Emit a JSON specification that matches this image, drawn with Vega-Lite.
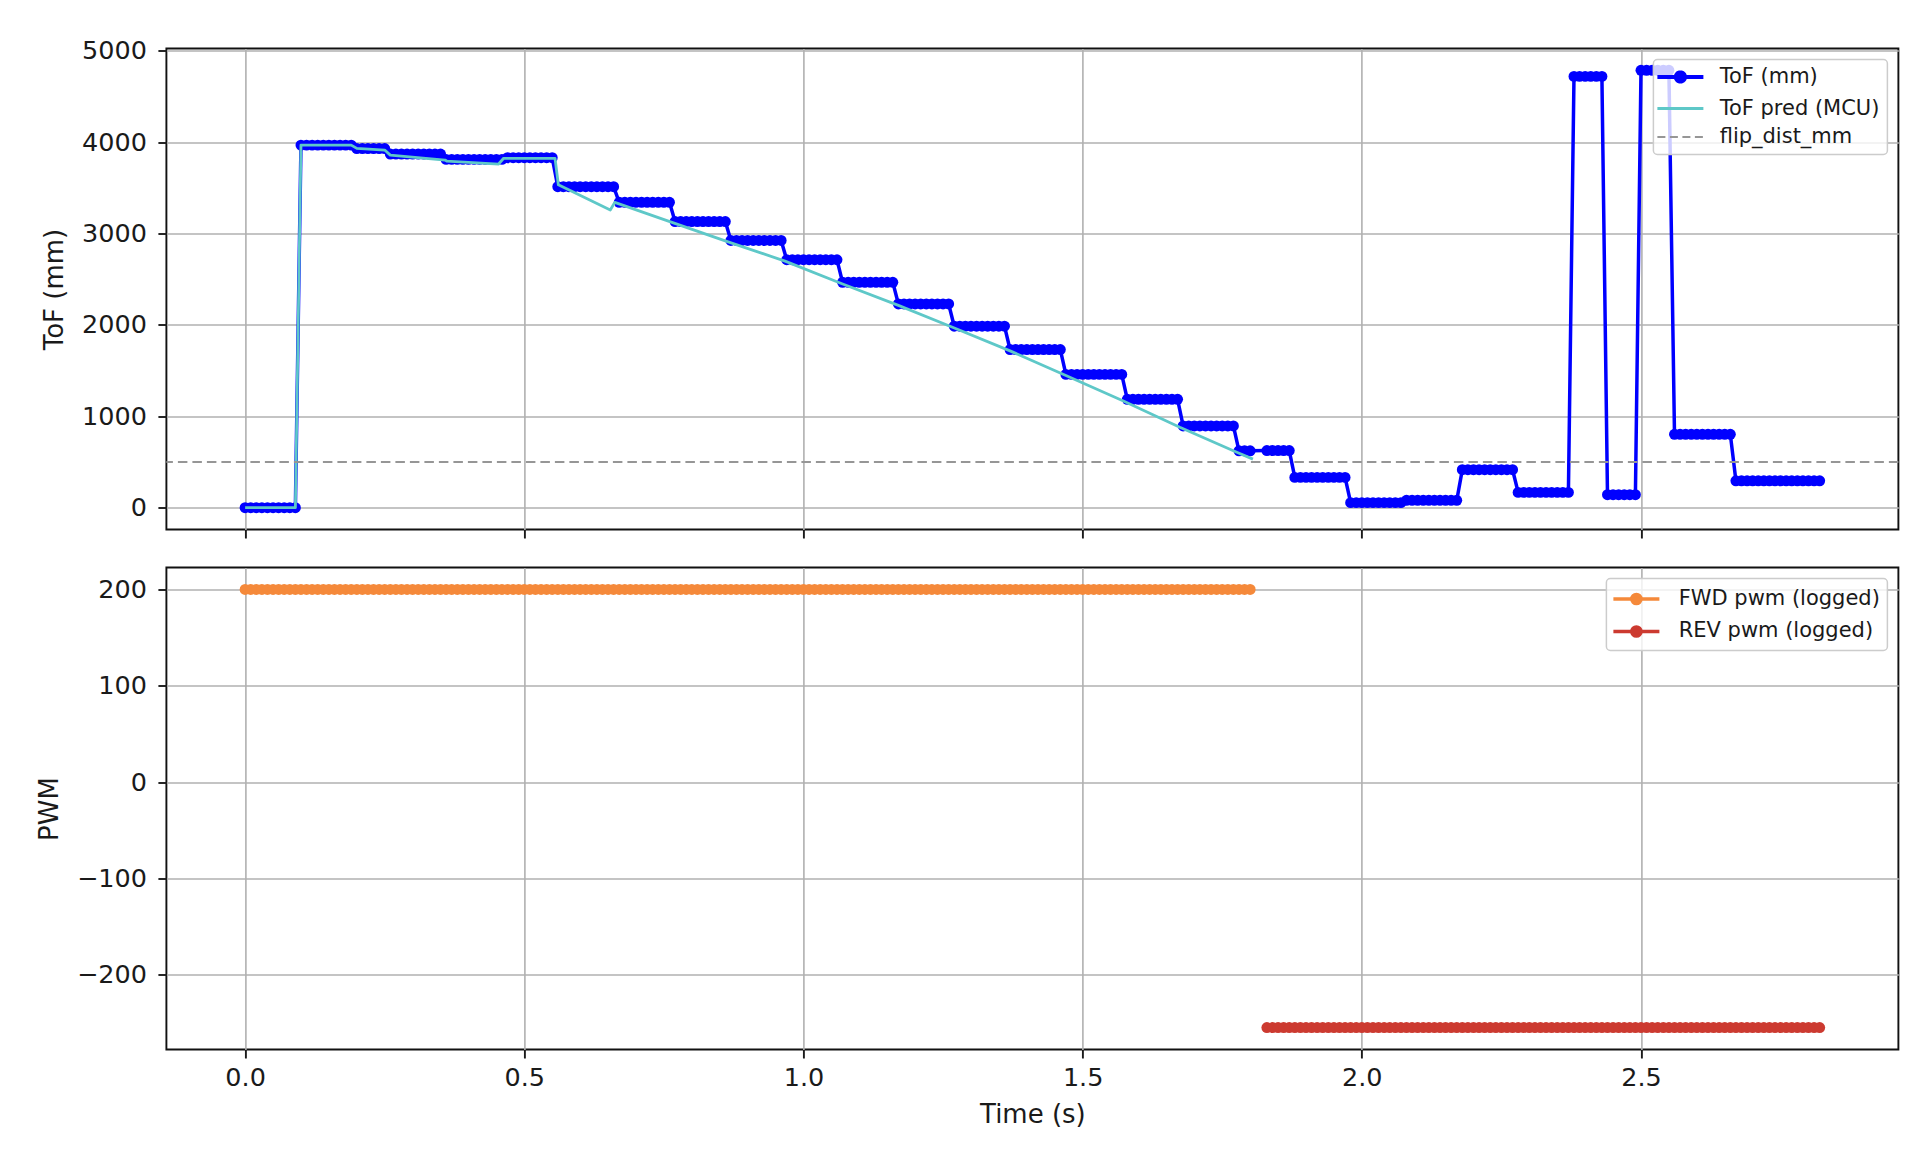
{
  "$schema": "https://vega.github.io/schema/vega-lite/v6.json",
  "background": "white",
  "padding": {"left": 35.4, "top": 37.5, "right": 17, "bottom": 39},
  "spacing": 26,
  "datasets": {
    "log": [
      {"t":0,"tof":0,"fwd":200},{"t":0.01,"tof":0,"fwd":200},{"t":0.02,"tof":0,"fwd":200},{"t":0.03,"tof":0,"fwd":200},{"t":0.04,"tof":0,"fwd":200},{"t":0.05,"tof":0,"fwd":200},{"t":0.06,"tof":0,"fwd":200},{"t":0.07,"tof":0,"fwd":200},{"t":0.08,"tof":0,"fwd":200},{"t":0.09,"tof":0,"fwd":200},
      {"t":0.1,"tof":3966,"fwd":200},{"t":0.11,"tof":3966,"fwd":200},{"t":0.12,"tof":3966,"fwd":200},{"t":0.13,"tof":3966,"fwd":200},{"t":0.14,"tof":3966,"fwd":200},{"t":0.15,"tof":3966,"fwd":200},{"t":0.16,"tof":3966,"fwd":200},{"t":0.17,"tof":3966,"fwd":200},{"t":0.18,"tof":3966,"fwd":200},{"t":0.19,"tof":3966,"fwd":200},
      {"t":0.2,"tof":3929,"fwd":200},{"t":0.21,"tof":3929,"fwd":200},{"t":0.22,"tof":3929,"fwd":200},{"t":0.23,"tof":3929,"fwd":200},{"t":0.24,"tof":3929,"fwd":200},{"t":0.25,"tof":3929,"fwd":200},
      {"t":0.26,"tof":3868,"fwd":200},{"t":0.27,"tof":3868,"fwd":200},{"t":0.28,"tof":3868,"fwd":200},{"t":0.29,"tof":3868,"fwd":200},{"t":0.3,"tof":3868,"fwd":200},{"t":0.31,"tof":3868,"fwd":200},{"t":0.32,"tof":3868,"fwd":200},{"t":0.33,"tof":3868,"fwd":200},{"t":0.34,"tof":3868,"fwd":200},{"t":0.35,"tof":3868,"fwd":200},
      {"t":0.36,"tof":3810,"fwd":200},{"t":0.37,"tof":3810,"fwd":200},{"t":0.38,"tof":3810,"fwd":200},{"t":0.39,"tof":3810,"fwd":200},{"t":0.4,"tof":3810,"fwd":200},{"t":0.41,"tof":3810,"fwd":200},{"t":0.42,"tof":3810,"fwd":200},{"t":0.43,"tof":3810,"fwd":200},{"t":0.44,"tof":3810,"fwd":200},{"t":0.45,"tof":3810,"fwd":200},{"t":0.46,"tof":3810,"fwd":200},
      {"t":0.47,"tof":3828,"fwd":200},{"t":0.48,"tof":3828,"fwd":200},{"t":0.49,"tof":3828,"fwd":200},{"t":0.5,"tof":3828,"fwd":200},{"t":0.51,"tof":3828,"fwd":200},{"t":0.52,"tof":3828,"fwd":200},{"t":0.53,"tof":3828,"fwd":200},{"t":0.54,"tof":3828,"fwd":200},{"t":0.55,"tof":3828,"fwd":200},
      {"t":0.56,"tof":3511,"fwd":200},{"t":0.57,"tof":3511,"fwd":200},{"t":0.58,"tof":3511,"fwd":200},{"t":0.59,"tof":3511,"fwd":200},{"t":0.6,"tof":3511,"fwd":200},{"t":0.61,"tof":3511,"fwd":200},{"t":0.62,"tof":3511,"fwd":200},{"t":0.63,"tof":3511,"fwd":200},{"t":0.64,"tof":3511,"fwd":200},{"t":0.65,"tof":3511,"fwd":200},{"t":0.66,"tof":3511,"fwd":200},
      {"t":0.67,"tof":3340,"fwd":200},{"t":0.68,"tof":3340,"fwd":200},{"t":0.69,"tof":3340,"fwd":200},{"t":0.7,"tof":3340,"fwd":200},{"t":0.71,"tof":3340,"fwd":200},{"t":0.72,"tof":3340,"fwd":200},{"t":0.73,"tof":3340,"fwd":200},{"t":0.74,"tof":3340,"fwd":200},{"t":0.75,"tof":3340,"fwd":200},{"t":0.76,"tof":3340,"fwd":200},
      {"t":0.77,"tof":3130,"fwd":200},{"t":0.78,"tof":3130,"fwd":200},{"t":0.79,"tof":3130,"fwd":200},{"t":0.8,"tof":3130,"fwd":200},{"t":0.81,"tof":3130,"fwd":200},{"t":0.82,"tof":3130,"fwd":200},{"t":0.83,"tof":3130,"fwd":200},{"t":0.84,"tof":3130,"fwd":200},{"t":0.85,"tof":3130,"fwd":200},{"t":0.86,"tof":3130,"fwd":200},
      {"t":0.87,"tof":2923,"fwd":200},{"t":0.88,"tof":2923,"fwd":200},{"t":0.89,"tof":2923,"fwd":200},{"t":0.9,"tof":2923,"fwd":200},{"t":0.91,"tof":2923,"fwd":200},{"t":0.92,"tof":2923,"fwd":200},{"t":0.93,"tof":2923,"fwd":200},{"t":0.94,"tof":2923,"fwd":200},{"t":0.95,"tof":2923,"fwd":200},{"t":0.96,"tof":2923,"fwd":200},
      {"t":0.97,"tof":2712,"fwd":200},{"t":0.98,"tof":2712,"fwd":200},{"t":0.99,"tof":2712,"fwd":200},{"t":1,"tof":2712,"fwd":200},{"t":1.01,"tof":2712,"fwd":200},{"t":1.02,"tof":2712,"fwd":200},{"t":1.03,"tof":2712,"fwd":200},{"t":1.04,"tof":2712,"fwd":200},{"t":1.05,"tof":2712,"fwd":200},{"t":1.06,"tof":2712,"fwd":200},
      {"t":1.07,"tof":2465,"fwd":200},{"t":1.08,"tof":2465,"fwd":200},{"t":1.09,"tof":2465,"fwd":200},{"t":1.1,"tof":2465,"fwd":200},{"t":1.11,"tof":2465,"fwd":200},{"t":1.12,"tof":2465,"fwd":200},{"t":1.13,"tof":2465,"fwd":200},{"t":1.14,"tof":2465,"fwd":200},{"t":1.15,"tof":2465,"fwd":200},{"t":1.16,"tof":2465,"fwd":200},
      {"t":1.17,"tof":2228,"fwd":200},{"t":1.18,"tof":2228,"fwd":200},{"t":1.19,"tof":2228,"fwd":200},{"t":1.2,"tof":2228,"fwd":200},{"t":1.21,"tof":2228,"fwd":200},{"t":1.22,"tof":2228,"fwd":200},{"t":1.23,"tof":2228,"fwd":200},{"t":1.24,"tof":2228,"fwd":200},{"t":1.25,"tof":2228,"fwd":200},{"t":1.26,"tof":2228,"fwd":200},
      {"t":1.27,"tof":1985,"fwd":200},{"t":1.28,"tof":1985,"fwd":200},{"t":1.29,"tof":1985,"fwd":200},{"t":1.3,"tof":1985,"fwd":200},{"t":1.31,"tof":1985,"fwd":200},{"t":1.32,"tof":1985,"fwd":200},{"t":1.33,"tof":1985,"fwd":200},{"t":1.34,"tof":1985,"fwd":200},{"t":1.35,"tof":1985,"fwd":200},{"t":1.36,"tof":1985,"fwd":200},
      {"t":1.37,"tof":1730,"fwd":200},{"t":1.38,"tof":1730,"fwd":200},{"t":1.39,"tof":1730,"fwd":200},{"t":1.4,"tof":1730,"fwd":200},{"t":1.41,"tof":1730,"fwd":200},{"t":1.42,"tof":1730,"fwd":200},{"t":1.43,"tof":1730,"fwd":200},{"t":1.44,"tof":1730,"fwd":200},{"t":1.45,"tof":1730,"fwd":200},{"t":1.46,"tof":1730,"fwd":200},
      {"t":1.47,"tof":1458,"fwd":200},{"t":1.48,"tof":1458,"fwd":200},{"t":1.49,"tof":1458,"fwd":200},{"t":1.5,"tof":1458,"fwd":200},{"t":1.51,"tof":1458,"fwd":200},{"t":1.52,"tof":1458,"fwd":200},{"t":1.53,"tof":1458,"fwd":200},{"t":1.54,"tof":1458,"fwd":200},{"t":1.55,"tof":1458,"fwd":200},{"t":1.56,"tof":1458,"fwd":200},{"t":1.57,"tof":1458,"fwd":200},
      {"t":1.58,"tof":1185,"fwd":200},{"t":1.59,"tof":1185,"fwd":200},{"t":1.6,"tof":1185,"fwd":200},{"t":1.61,"tof":1185,"fwd":200},{"t":1.62,"tof":1185,"fwd":200},{"t":1.63,"tof":1185,"fwd":200},{"t":1.64,"tof":1185,"fwd":200},{"t":1.65,"tof":1185,"fwd":200},{"t":1.66,"tof":1185,"fwd":200},{"t":1.67,"tof":1185,"fwd":200},
      {"t":1.68,"tof":894,"fwd":200},{"t":1.69,"tof":894,"fwd":200},{"t":1.7,"tof":894,"fwd":200},{"t":1.71,"tof":894,"fwd":200},{"t":1.72,"tof":894,"fwd":200},{"t":1.73,"tof":894,"fwd":200},{"t":1.74,"tof":894,"fwd":200},{"t":1.75,"tof":894,"fwd":200},{"t":1.76,"tof":894,"fwd":200},{"t":1.77,"tof":894,"fwd":200},
      {"t":1.78,"tof":622,"fwd":200},{"t":1.79,"tof":622,"fwd":200},{"t":1.8,"tof":622,"fwd":200},
      {"t":1.83,"tof":625,"rev":-255},{"t":1.84,"tof":625,"rev":-255},{"t":1.85,"tof":625,"rev":-255},{"t":1.86,"tof":625,"rev":-255},{"t":1.87,"tof":625,"rev":-255},
      {"t":1.88,"tof":331,"rev":-255},{"t":1.89,"tof":331,"rev":-255},{"t":1.9,"tof":331,"rev":-255},{"t":1.91,"tof":331,"rev":-255},{"t":1.92,"tof":331,"rev":-255},{"t":1.93,"tof":331,"rev":-255},{"t":1.94,"tof":331,"rev":-255},{"t":1.95,"tof":331,"rev":-255},{"t":1.96,"tof":331,"rev":-255},{"t":1.97,"tof":331,"rev":-255},
      {"t":1.98,"tof":55,"rev":-255},{"t":1.99,"tof":55,"rev":-255},{"t":2,"tof":55,"rev":-255},{"t":2.01,"tof":55,"rev":-255},{"t":2.02,"tof":55,"rev":-255},{"t":2.03,"tof":55,"rev":-255},{"t":2.04,"tof":55,"rev":-255},{"t":2.05,"tof":55,"rev":-255},{"t":2.06,"tof":55,"rev":-255},{"t":2.07,"tof":55,"rev":-255},
      {"t":2.08,"tof":80,"rev":-255},{"t":2.09,"tof":80,"rev":-255},{"t":2.1,"tof":80,"rev":-255},{"t":2.11,"tof":80,"rev":-255},{"t":2.12,"tof":80,"rev":-255},{"t":2.13,"tof":80,"rev":-255},{"t":2.14,"tof":80,"rev":-255},{"t":2.15,"tof":80,"rev":-255},{"t":2.16,"tof":80,"rev":-255},{"t":2.17,"tof":80,"rev":-255},
      {"t":2.18,"tof":415,"rev":-255},{"t":2.19,"tof":415,"rev":-255},{"t":2.2,"tof":415,"rev":-255},{"t":2.21,"tof":415,"rev":-255},{"t":2.22,"tof":415,"rev":-255},{"t":2.23,"tof":415,"rev":-255},{"t":2.24,"tof":415,"rev":-255},{"t":2.25,"tof":415,"rev":-255},{"t":2.26,"tof":415,"rev":-255},{"t":2.27,"tof":415,"rev":-255},
      {"t":2.28,"tof":167,"rev":-255},{"t":2.29,"tof":167,"rev":-255},{"t":2.3,"tof":167,"rev":-255},{"t":2.31,"tof":167,"rev":-255},{"t":2.32,"tof":167,"rev":-255},{"t":2.33,"tof":167,"rev":-255},{"t":2.34,"tof":167,"rev":-255},{"t":2.35,"tof":167,"rev":-255},{"t":2.36,"tof":167,"rev":-255},{"t":2.37,"tof":167,"rev":-255},
      {"t":2.38,"tof":4718,"rev":-255},{"t":2.39,"tof":4718,"rev":-255},{"t":2.4,"tof":4718,"rev":-255},{"t":2.41,"tof":4718,"rev":-255},{"t":2.42,"tof":4718,"rev":-255},{"t":2.43,"tof":4718,"rev":-255},
      {"t":2.44,"tof":142,"rev":-255},{"t":2.45,"tof":142,"rev":-255},{"t":2.46,"tof":142,"rev":-255},{"t":2.47,"tof":142,"rev":-255},{"t":2.48,"tof":142,"rev":-255},{"t":2.49,"tof":142,"rev":-255},
      {"t":2.5,"tof":4784,"rev":-255},{"t":2.51,"tof":4784,"rev":-255},{"t":2.52,"tof":4784,"rev":-255},{"t":2.53,"tof":4784,"rev":-255},{"t":2.54,"tof":4784,"rev":-255},{"t":2.55,"tof":4784,"rev":-255},
      {"t":2.56,"tof":802,"rev":-255},{"t":2.57,"tof":802,"rev":-255},{"t":2.58,"tof":802,"rev":-255},{"t":2.59,"tof":802,"rev":-255},{"t":2.6,"tof":802,"rev":-255},{"t":2.61,"tof":802,"rev":-255},{"t":2.62,"tof":802,"rev":-255},{"t":2.63,"tof":802,"rev":-255},{"t":2.64,"tof":802,"rev":-255},{"t":2.65,"tof":802,"rev":-255},{"t":2.66,"tof":802,"rev":-255},
      {"t":2.67,"tof":294,"rev":-255},{"t":2.68,"tof":294,"rev":-255},{"t":2.69,"tof":294,"rev":-255},{"t":2.7,"tof":294,"rev":-255},{"t":2.71,"tof":294,"rev":-255},{"t":2.72,"tof":294,"rev":-255},{"t":2.73,"tof":294,"rev":-255},{"t":2.74,"tof":294,"rev":-255},{"t":2.75,"tof":294,"rev":-255},{"t":2.76,"tof":294,"rev":-255},{"t":2.77,"tof":294,"rev":-255},{"t":2.78,"tof":294,"rev":-255},{"t":2.79,"tof":294,"rev":-255},{"t":2.8,"tof":294,"rev":-255},{"t":2.81,"tof":294,"rev":-255},{"t":2.82,"tof":294,"rev":-255}
    ],
    "pred": [
      {"t":0,"v":0},{"t":0.09,"v":0},{"t":0.1,"v":3966},{"t":0.19,"v":3966},{"t":0.2,"v":3930},{"t":0.25,"v":3912},{"t":0.26,"v":3857},{"t":0.358,"v":3803},{"t":0.361,"v":3792},{"t":0.454,"v":3759},{"t":0.463,"v":3822},{"t":0.555,"v":3822},{"t":0.561,"v":3533},{"t":0.654,"v":3257},{"t":0.662,"v":3340},{"t":0.767,"v":3115},{"t":0.865,"v":2908},{"t":0.967,"v":2697},{"t":1.069,"v":2450},{"t":1.17,"v":2213},{"t":1.268,"v":1970},{"t":1.37,"v":1715},{"t":1.471,"v":1443},{"t":1.572,"v":1170},{"t":1.674,"v":879},{"t":1.776,"v":607},{"t":1.805,"v":531}
    ]
  },
  "config": {
    "font": "DejaVu Sans",
    "view": {"stroke": "#111111", "strokeWidth": 1.9},
    "axis": {
      "labelFont": "DejaVu Sans", "labelFontSize": 25.5, "labelColor": "#1a1a1a",
      "titleFont": "DejaVu Sans", "titleFontSize": 26, "titleFontWeight": "normal", "titleColor": "#1a1a1a",
      "tickColor": "#1a1a1a", "tickWidth": 1.9, "tickSize": 8.5,
      "gridColor": "#b0b0b0", "gridWidth": 1.6, "gridOpacity": 1,
      "domain": false, "labelPadding": 7.5, "titlePadding": 11
    },
    "axisY": {"labelPadding": 11.5, "titlePadding": 14},
    "legend": {
      "labelFont": "DejaVu Sans", "labelFontSize": 21, "labelColor": "#1a1a1a", "labelLimit": 500,
      "orient": "top-right", "offset": 11, "padding": 7,
      "fillColor": "rgba(255,255,255,0.8)", "strokeColor": "#cccccc", "strokeWidth": 1.5, "cornerRadius": 4,
      "symbolSize": 529, "symbolStrokeWidth": 3.5, "rowPadding": 6.5, "labelOffset": 38.3
    }
  },
  "resolve": {"scale": {"color": "independent"}, "legend": {"color": "independent"}},
  "vconcat": [
    {
      "width": 1732,
      "height": 481,
      "layer": [
        {
          "data": {"name": "log"},
          "mark": {"type": "line", "strokeWidth": 3.5, "strokeJoin": "round", "point": {"filled": true, "size": 120, "opacity": 1}},
          "encoding": {
            "x": {"field": "t", "type": "quantitative", "scale": {"domain": [-0.141, 2.961], "nice": false, "zero": false},
                  "axis": {"values": [0, 0.5, 1, 1.5, 2, 2.5], "labels": false, "title": null, "grid": true}},
            "y": {"field": "tof", "type": "quantitative", "scale": {"domain": [-239, 5023], "nice": false, "zero": false},
                  "axis": {"values": [0, 1000, 2000, 3000, 4000, 5000], "format": "d", "title": "ToF (mm)", "grid": true}},
            "color": {
              "datum": "ToF (mm)",
              "scale": {"domain": ["ToF (mm)", "ToF pred (MCU)", "flip_dist_mm"], "range": ["#0000ff", "#5ec8c8", "#969696"]},
              "legend": {
                "title": null,
                "encode": {
                  "symbols": {
                    "update": {
                      "shape": {"signal": "datum.value === 'ToF (mm)' ? 'M-1.174,0H2.826M0.426,0A0.4,0.4,0,1,1,1.226,0A0.4,0.4,0,1,1,0.426,0Z' : 'M-1.174,0H2.826'"},
                      "strokeDash": {"signal": "datum.value === 'flip_dist_mm' ? [8,4.5] : [1,0]"},
                      "strokeWidth": {"signal": "datum.value === 'ToF (mm)' ? 4 : (datum.value === 'flip_dist_mm' ? 2.2 : 3.2)"},
                      "stroke": {"signal": "datum.value === 'ToF (mm)' ? '#0000ff' : (datum.value === 'ToF pred (MCU)' ? '#5ec8c8' : '#969696')"},
                      "fill": {"signal": "datum.value === 'ToF (mm)' ? '#0000ff' : 'transparent'"},
                      "opacity": {"value": 1}
                    }
                  }
                }
              }
            }
          }
        },
        {
          "data": {"name": "pred"},
          "mark": {"type": "line", "strokeWidth": 2.8, "strokeJoin": "round"},
          "encoding": {
            "x": {"field": "t", "type": "quantitative"},
            "y": {"field": "v", "type": "quantitative"},
            "color": {"datum": "ToF pred (MCU)"}
          }
        },
        {
          "data": {"values": [{"flip": 500}]},
          "mark": {"type": "rule", "strokeDash": [9.5, 5], "strokeWidth": 2},
          "encoding": {
            "y": {"field": "flip", "type": "quantitative"},
            "color": {"datum": "flip_dist_mm"}
          }
        }
      ]
    },
    {
      "width": 1732,
      "height": 482,
      "layer": [
        {
          "data": {"name": "log"},
          "transform": [{"filter": "isValid(datum.fwd)"}],
          "mark": {"type": "line", "strokeWidth": 3.5, "strokeJoin": "round", "point": {"filled": true, "size": 120, "opacity": 1}},
          "encoding": {
            "x": {"field": "t", "type": "quantitative", "scale": {"domain": [-0.141, 2.961], "nice": false, "zero": false},
                  "axis": {"values": [0, 0.5, 1, 1.5, 2, 2.5], "format": ".1f", "title": "Time (s)", "grid": true}},
            "y": {"field": "fwd", "type": "quantitative", "scale": {"domain": [-277.75, 222.75], "nice": false, "zero": false},
                  "axis": {"values": [-200, -100, 0, 100, 200], "format": "d", "title": "PWM", "grid": true}},
            "color": {
              "datum": "FWD pwm (logged)",
              "scale": {"domain": ["FWD pwm (logged)", "REV pwm (logged)"], "range": ["#f5893a", "#cc3a30"]},
              "legend": {
                "title": null,
                "encode": {
                  "symbols": {
                    "update": {
                      "shape": {"value": "M-1.174,0H2.826M0.426,0A0.4,0.4,0,1,1,1.226,0A0.4,0.4,0,1,1,0.426,0Z"},
                      "strokeWidth": {"value": 3.5},
                      "stroke": {"signal": "datum.value === 'FWD pwm (logged)' ? '#f5893a' : '#cc3a30'"},
                      "fill": {"signal": "datum.value === 'FWD pwm (logged)' ? '#f5893a' : '#cc3a30'"},
                      "opacity": {"value": 1}
                    }
                  }
                }
              }
            }
          }
        },
        {
          "data": {"name": "log"},
          "transform": [{"filter": "isValid(datum.rev)"}],
          "mark": {"type": "line", "strokeWidth": 3.5, "strokeJoin": "round", "point": {"filled": true, "size": 120, "opacity": 1}},
          "encoding": {
            "x": {"field": "t", "type": "quantitative"},
            "y": {"field": "rev", "type": "quantitative"},
            "color": {"datum": "REV pwm (logged)"}
          }
        }
      ]
    }
  ]
}
